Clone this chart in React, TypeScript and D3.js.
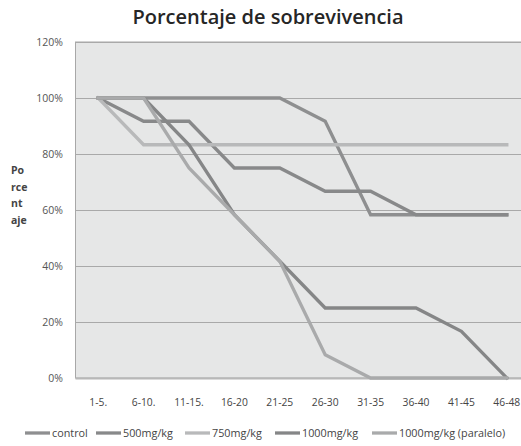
import React, { useEffect, useRef } from "react";
import * as d3 from "d3";

const categories = ["1-5.", "6-10.", "11-15.", "16-20", "21-25", "26-30", "31-35", "36-40", "41-45", "46-48"];
const seriesNames = ["control", "500mg/kg", "750mg/kg", "1000mg/kg", "1000mg/kg (paralelo)"];
const control = [1, 1, 1, 1, 1, 0.917, 0.583, 0.583, 0.583, 0.583];
const mg500 = [1, 0.917, 0.917, 0.75, 0.75, 0.667, 0.667, 0.583, 0.583, 0.583];
const mg750 = [1, 0.833, 0.833, 0.833, 0.833, 0.833, 0.833, 0.833, 0.833, 0.833];
const mg1000 = [1, 1, 0.833, 0.583, 0.417, 0.25, 0.25, 0.25, 0.167, 0];
const mg1000p = [1, 1, 0.75, 0.583, 0.417, 0.083, 0, 0, 0, 0];
const yTicks = [0, 0.2, 0.4, 0.6, 0.8, 1.0, 1.2];
const colors = ["#8e8f90", "#88898a", "#b8b9ba", "#858687", "#a9aaab"];

const W = 521;
const H = 446;

export default function App() {
  const ref = useRef<SVGSVGElement>(null);
  useEffect(() => {
    const svg = d3.select(ref.current);
    svg.selectAll("*").remove();
    const left = 75.5, right = 529.5, top = 42, bottom = 378;
    const x = d3.scaleBand<string>().domain(categories).range([left, right]).padding(0);
    const cx = (c: string) => (x(c) as number) + x.bandwidth() / 2;
    const y = d3.scaleLinear().domain([0, 1.2]).range([bottom, top]);
    const font = "'Open Sans', 'Liberation Sans', sans-serif";

    svg.append("rect").attr("width", W).attr("height", H).attr("fill", "#ffffff");

    svg.append("text").attr("x", 268).attr("y", 24).attr("text-anchor", "middle")
      .attr("font-family", font).attr("font-weight", 600).attr("font-size", 20)
      .attr("fill", "#262626").text("Porcentaje de sobrevivencia");

    svg.append("rect").attr("x", left).attr("y", top).attr("width", right - left).attr("height", bottom - top)
      .attr("fill", "#e6e7e7").attr("stroke", "#a8a8a8").attr("stroke-width", 1);

    svg.append("g").selectAll("line").data(yTicks).join("line")
      .attr("x1", left).attr("x2", right)
      .attr("y1", (d) => Math.round(y(d)) + 0.5).attr("y2", (d) => Math.round(y(d)) + 0.5)
      .attr("stroke", (d) => (d === 0 ? "#b8b8b8" : "#a9a9a9")).attr("stroke-width", (d) => (d === 0 ? 2 : 1));

    const fmt = d3.format(".0%");
    svg.append("g").selectAll("text").data(yTicks).join("text")
      .attr("x", 63).attr("y", (d) => y(d) + 4).attr("text-anchor", "end")
      .attr("font-family", font).attr("font-size", 10.5).attr("fill", "#555")
      .text((d) => fmt(d));

    svg.append("g").selectAll("text").data(categories).join("text")
      .attr("x", (d) => cx(d)).attr("y", 406).attr("text-anchor", "middle")
      .attr("font-family", font).attr("font-size", 10.3).attr("fill", "#444")
      .text((d) => d);

    const yTitle = ["Po", "rce", "nt", "aje"];
    svg.append("g").selectAll("text").data(yTitle).join("text")
      .attr("x", 11).attr("y", (_d, i) => 174 + i * 16.5)
      .attr("font-family", font).attr("font-weight", 700).attr("font-size", 10.5).attr("fill", "#444")
      .text((d) => d);

    const data = [control, mg500, mg750, mg1000, mg1000p];
    const line = d3.line<number>().x((_d, i) => cx(categories[i])).y((d) => y(d));
    svg.append("g").selectAll("path").data(data).join("path")
      .attr("d", (d) => line(d) as string).attr("fill", "none")
      .attr("stroke", (_d, i) => colors[i]).attr("stroke-width", 3.3)
      .attr("stroke-linejoin", "miter").attr("stroke-linecap", "square");

    const legendX = [25, 96, 185, 275, 372];
    const lg = svg.append("g");
    seriesNames.forEach((n, i) => {
      lg.append("line").attr("x1", legendX[i]).attr("x2", legendX[i] + 25)
        .attr("y1", 433).attr("y2", 433).attr("stroke", colors[i]).attr("stroke-width", 3.3);
      lg.append("text").attr("x", legendX[i] + 27).attr("y", 437)
        .attr("font-family", font).attr("font-size", 10.8).attr("fill", "#444").text(n);
    });
  }, []);
  return <svg ref={ref} width={W} height={H} style={{ display: "block", position: "absolute", left: 0, top: 0 }} />;
}
